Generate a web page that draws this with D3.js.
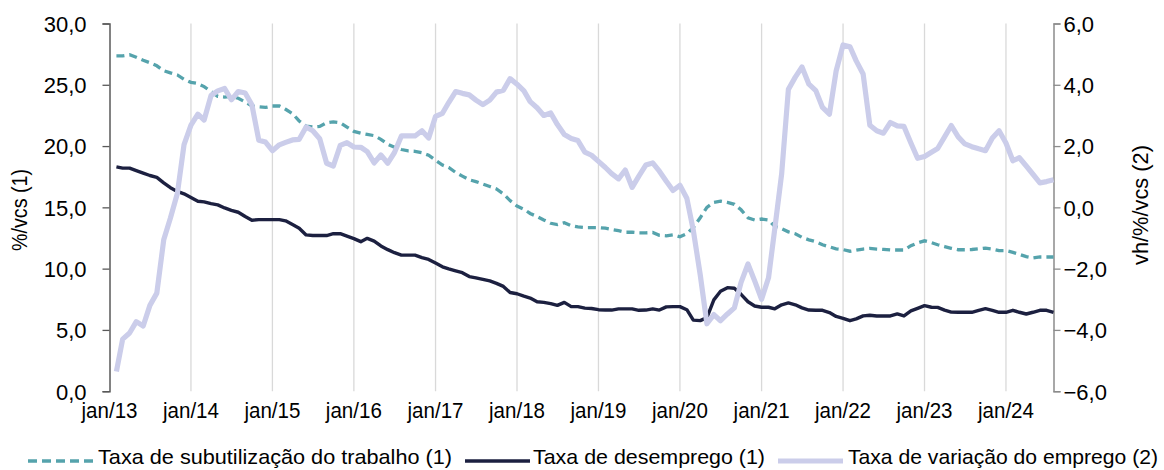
<!DOCTYPE html>
<html><head><meta charset="utf-8">
<script src="https://cdn.jsdelivr.net/npm/d3@7"></script>
<style>
html,body{margin:0;padding:0;background:#fff;}
svg{display:block;}
text{font-family:"Liberation Sans Narrow","Liberation Sans",Arial,sans-serif;fill:#000;}
</style></head>
<body>
<svg id="chart" width="1164" height="470"></svg>
<script>
// ---------- DATA ----------
// monthly observations, fev/13 .. ago/24
const firstMonth = [2013, 1];   // year, month index (0 = jan)
const nMonths = 139;
const categories = d3.range(nMonths).map(i => new Date(firstMonth[0], firstMonth[1] + i, 1));

const subutilizacao = [
27.36,27.36,27.45,27.25,27.0,26.8,26.55,26.15,25.97,25.8,25.45,25.2,
25.1,24.85,24.45,24.05,24.0,24.05,23.9,23.6,23.27,23.2,23.15,23.27,
23.27,23.0,22.65,22.05,21.62,21.55,21.6,21.9,21.98,21.9,21.55,21.2,
21.05,20.95,20.85,20.55,20.15,19.9,19.72,19.6,19.57,19.45,19.25,18.85,
18.45,18.25,17.85,17.55,17.25,17.1,16.9,16.7,16.5,16.1,15.55,15.1,
14.85,14.5,14.25,13.97,13.7,13.6,13.75,13.5,13.4,13.35,13.35,13.35,
13.3,13.2,13.1,12.97,12.97,12.92,12.92,12.95,12.72,12.68,12.76,12.6,
12.85,13.35,14.15,15.0,15.4,15.5,15.4,15.25,14.8,14.15,13.97,14.05,
13.97,13.45,13.25,13.0,12.85,12.55,12.35,12.2,11.95,11.78,11.62,11.55,
11.42,11.5,11.6,11.65,11.6,11.57,11.52,11.52,11.52,11.87,12.1,12.27,
12.12,11.95,11.8,11.66,11.54,11.54,11.56,11.62,11.68,11.6,11.47,11.47,
11.33,11.17,10.98,10.87,10.95,10.95,10.95];

const desemprego = [
18.3,18.2,18.2,18.0,17.8,17.6,17.45,17.0,16.6,16.3,16.1,15.8,
15.5,15.45,15.3,15.2,14.95,14.75,14.6,14.25,13.95,14.0,14.0,14.0,
14.0,13.9,13.6,13.3,12.75,12.7,12.7,12.7,12.85,12.85,12.65,12.45,
12.2,12.47,12.25,11.85,11.55,11.3,11.1,11.1,11.1,10.9,10.75,10.45,
10.15,9.98,9.82,9.67,9.35,9.25,9.12,9.0,8.8,8.55,8.05,7.95,
7.75,7.6,7.3,7.25,7.15,7.0,7.25,6.9,6.9,6.78,6.75,6.65,
6.62,6.62,6.72,6.72,6.72,6.6,6.62,6.72,6.62,6.88,6.9,6.9,
6.65,5.8,5.76,6.0,7.45,8.15,8.45,8.4,7.9,7.3,6.95,6.85,
6.85,6.72,7.05,7.2,7.05,6.8,6.62,6.6,6.6,6.42,6.1,5.95,
5.75,5.9,6.15,6.2,6.14,6.14,6.14,6.3,6.14,6.55,6.76,6.98,
6.85,6.84,6.62,6.45,6.44,6.44,6.44,6.6,6.74,6.6,6.44,6.44,
6.6,6.44,6.3,6.44,6.6,6.6,6.44];

const variacaoEmprego = [
-5.36,-4.3,-4.1,-3.73,-3.87,-3.2,-2.8,-1.06,-0.35,0.45,2.05,2.68,
3.04,2.85,3.65,3.8,3.88,3.51,3.78,3.73,3.35,2.19,2.13,1.85,
2.04,2.12,2.2,2.22,2.62,2.5,2.24,1.44,1.35,2.02,2.11,1.97,
1.96,1.82,1.45,1.71,1.44,1.79,2.33,2.33,2.33,2.5,2.26,2.97,
3.07,3.42,3.78,3.72,3.67,3.5,3.35,3.5,3.76,3.82,4.2,4.02,
3.8,3.45,3.25,3.0,3.08,2.7,2.38,2.25,2.18,1.8,1.7,1.5,
1.3,1.1,0.93,1.22,0.65,1.02,1.38,1.45,1.18,0.85,0.55,0.72,
0.3,-0.75,-2.2,-3.8,-3.5,-3.7,-3.48,-3.28,-2.45,-1.85,-2.4,-3.0,
-2.3,-0.7,1.1,3.85,4.25,4.58,4.02,3.81,3.26,3.04,4.45,5.3,
5.24,4.78,4.35,2.68,2.5,2.42,2.77,2.66,2.64,2.1,1.6,1.66,
1.8,1.92,2.3,2.67,2.3,2.07,1.98,1.91,1.85,2.26,2.5,2.1,
1.52,1.62,1.35,1.08,0.8,0.84,0.9];

const xTickLabels = ["jan/13","jan/14","jan/15","jan/16","jan/17","jan/18","jan/19","jan/20","jan/21","jan/22","jan/23","jan/24"];
const leftTicks = [0,5,10,15,20,25,30];
const rightTicks = [-6,-4,-2,0,2,4,6];
const seriesNames = ["Taxa de subutilização do trabalho (1)","Taxa de desemprego (1)","Taxa de variação do emprego (2)"];
const leftTitle = "%/vcs (1)";
const rightTitle = "vh/%/vcs (2)";

// ---------- STYLE ----------
const C_SUB = "#55a3ac", C_DES = "#1c2040", C_VAR = "#cbcdea";
const fmt = v => d3.format(".1f")(v).replace(".", ",");

const svg = d3.select("#chart");
const x = d3.scaleTime().domain([new Date(2013,0,1), new Date(2024,7,1)]).range([109.5, 1053.5]);
const yL = d3.scaleLinear().domain([0,30]).range([391.2, 23.5]);
const yR = d3.scaleLinear().domain([-6,6]).range([391.2, 23.5]);
const tickDates = xTickLabels.map(s => new Date(2000 + (+s.slice(4)), 0, 1));

// vertical gridlines
svg.append("g").selectAll("line").data(tickDates.slice(1)).join("line")
  .attr("x1", d => x(d)).attr("x2", d => x(d))
  .attr("y1", yL(30)).attr("y2", yL(0))
  .attr("stroke", "#d9d9d9").attr("stroke-width", 1.3);

// left axis
const gL = svg.append("g").attr("transform", `translate(${x.range()[0]},0)`)
  .call(d3.axisLeft(yL).tickValues(leftTicks).tickSize(7).tickPadding(16).tickFormat(fmt));
gL.select(".domain").attr("stroke", "#595959").attr("stroke-width", 1.5);
gL.selectAll(".tick line").attr("stroke", "#595959").attr("stroke-width", 1.3);
gL.selectAll(".tick text").style("font-size", "22px").attr("dy", "0.36em");

// right axis
const gR = svg.append("g").attr("transform", `translate(${x.range()[1]},0)`)
  .call(d3.axisRight(yR).tickValues(rightTicks).tickSize(7).tickPadding(3).tickFormat(fmt));
gR.select(".domain").attr("stroke", "#8c8c8c").attr("stroke-width", 1.5);
gR.selectAll(".tick line").attr("stroke", "#8c8c8c").attr("stroke-width", 1.3);
gR.selectAll(".tick text").style("font-size", "22px").attr("dy", "0.36em");

// x labels
svg.append("g").selectAll("text").data(xTickLabels).join("text")
  .attr("x", (d,i) => x(tickDates[i])).attr("y", 418)
  .attr("text-anchor", "middle").style("font-size", "22px")
  .attr("textLength", 56).attr("lengthAdjust", "spacingAndGlyphs").text(d => d);

// axis titles
svg.append("text").attr("transform", `translate(27,210) rotate(-90)`)
  .attr("text-anchor", "middle").style("font-size", "22px")
  .attr("textLength", 82).attr("lengthAdjust", "spacingAndGlyphs").text(leftTitle);
svg.append("text").attr("transform", `translate(1148,205) rotate(-90)`)
  .attr("text-anchor", "middle").style("font-size", "22px")
  .attr("textLength", 120).attr("lengthAdjust", "spacingAndGlyphs").text(rightTitle);

// lines
const lineL = d3.line().x((d,i) => x(categories[i])).y(d => yL(d));
const lineR = d3.line().x((d,i) => x(categories[i])).y(d => yR(d));

svg.append("path").datum(subutilizacao).attr("d", lineL)
  .attr("fill","none").attr("stroke",C_SUB).attr("stroke-width",3.3)
  .attr("stroke-dasharray","8,5");
svg.append("path").datum(desemprego).attr("d", lineL)
  .attr("fill","none").attr("stroke",C_DES).attr("stroke-width",3.4)
  .attr("stroke-linejoin","round");
svg.append("path").datum(variacaoEmprego).attr("d", lineR)
  .attr("fill","none").attr("stroke",C_VAR).attr("stroke-width",5.2)
  .attr("stroke-linejoin","round");

// legend
const legend = [
  {name: seriesNames[0], c: C_SUB, w: 3.3, dash: "9,5", x0: 28, x1: 95, tx: 98, tw: 354},
  {name: seriesNames[1], c: C_DES, w: 3.4, dash: null, x0: 465, x1: 530, tx: 533, tw: 232},
  {name: seriesNames[2], c: C_VAR, w: 5.2, dash: null, x0: 778, x1: 843, tx: 848, tw: 310}
];
const lg = svg.append("g").selectAll("g").data(legend).join("g");
lg.append("line").attr("x1", d => d.x0).attr("x2", d => d.x1).attr("y1", 461).attr("y2", 461)
  .attr("stroke", d => d.c).attr("stroke-width", d => d.w).attr("stroke-dasharray", d => d.dash);
lg.append("text").attr("x", d => d.tx).attr("y", 464).style("font-size", "21px")
  .attr("textLength", d => d.tw).attr("lengthAdjust", "spacingAndGlyphs").text(d => d.name);
</script>
</body></html>
